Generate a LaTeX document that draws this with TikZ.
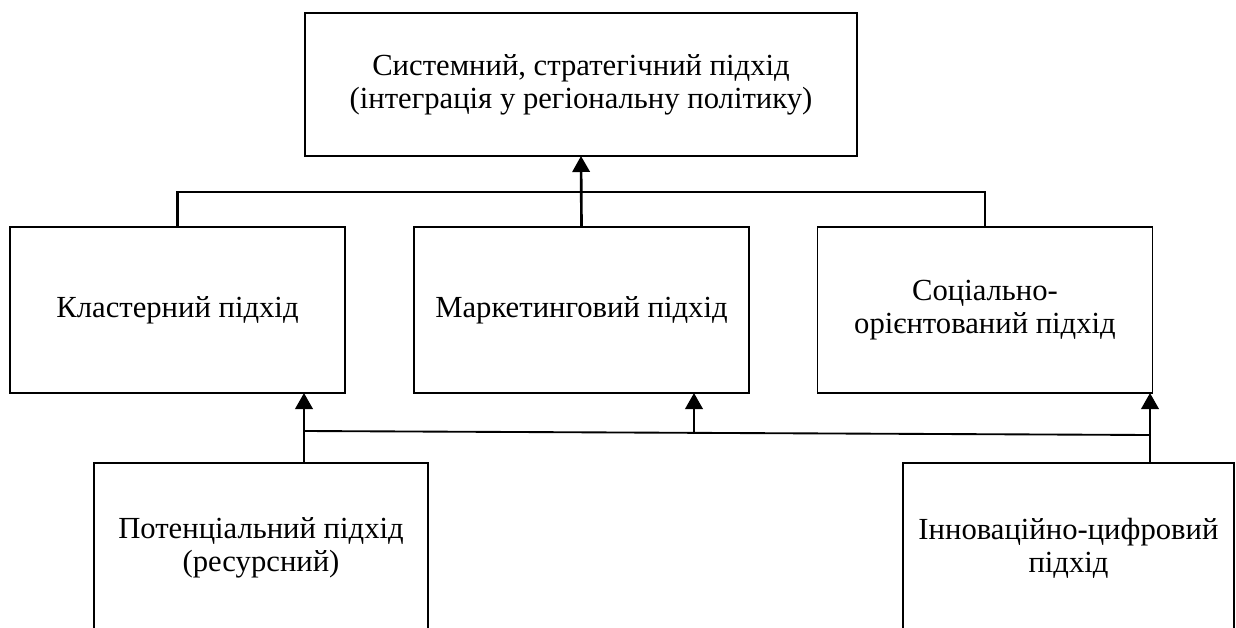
\documentclass[tikz,border=0pt]{standalone}
\usepackage{fontspec}
\setmainfont{Liberation Serif}
\usetikzlibrary{arrows.meta, calc, positioning}

\begin{document}
\begin{tikzpicture}[x=0.75pt, y=-0.75pt]

	\tikzstyle{caixa}=[rectangle, draw, line width=1.4pt, inner sep=0pt, outer sep=0pt, align=center, font=\fontsize{23}{24.5}\selectfont]
	\tikzstyle{fletxa}=[line width=2pt, -{Triangle[length=12pt, width=13pt]}]
	\tikzstyle{bus}=[line width=1.4pt]

	\useasboundingbox (0, 0) rectangle (1236, 628);

	\coordinate (n_0) at (581, 84.5);
	\coordinate (n_1_1) at (177.5, 310);
	\coordinate (n_1_2) at (581.5, 310);
	\coordinate (n_1_3) at (985, 310);
	\coordinate (n_2_1) at (261, 548);
	\coordinate (n_2_2) at (1068.5, 548);

	\node[caixa, minimum width=414pt, minimum height=107.25pt] (sist) at (n_0) {Системний, стратегічний підхід\\(інтеграція у регіональну політику)}; % NIVELL SUPERIOR
	\node[caixa, minimum width=251.25pt, minimum height=124.5pt] (klast) at (n_1_1) {Кластерний підхід}; % NIVELL MIG
	\node[caixa, minimum width=251.25pt, minimum height=124.5pt] (mark) at (n_1_2) {Маркетинговий підхід}; % NIVELL MIG
	\node[caixa, minimum width=251.25pt, minimum height=124.5pt] (soc) at (n_1_3) {Соціально-\\орієнтований підхід}; % NIVELL MIG
	\node[caixa, minimum width=250.5pt, minimum height=127.5pt] (pot) at (n_2_1) {Потенціальний підхід\\(ресурсний)}; % NIVELL INFERIOR
	\node[caixa, minimum width=248.25pt, minimum height=127.5pt] (innov) at (n_2_2) {Інноваційно-цифровий\\підхід}; % NIVELL INFERIOR

	\coordinate (b_0) at (581, 192);
	\coordinate (b_l) at (304, 431);
	\coordinate (b_m) at (694, 434);
	\coordinate (b_r) at (1150, 435);

	\draw[fletxa] (mark.north) -- (sist.south);
	\draw[bus, line width=2.2pt] (klast.north) |- (b_0);
	\draw[bus] (b_0) -| (soc.north);

	\draw[fletxa] (pot.north -| b_l) -- (klast.south -| b_l);
	\draw[fletxa] (b_m) -- (mark.south -| b_m);
	\draw[fletxa] (innov.north -| b_r) -- (soc.south -| b_r);
	\draw[bus] (b_l) -- (b_r);

\end{tikzpicture}
\end{document}
